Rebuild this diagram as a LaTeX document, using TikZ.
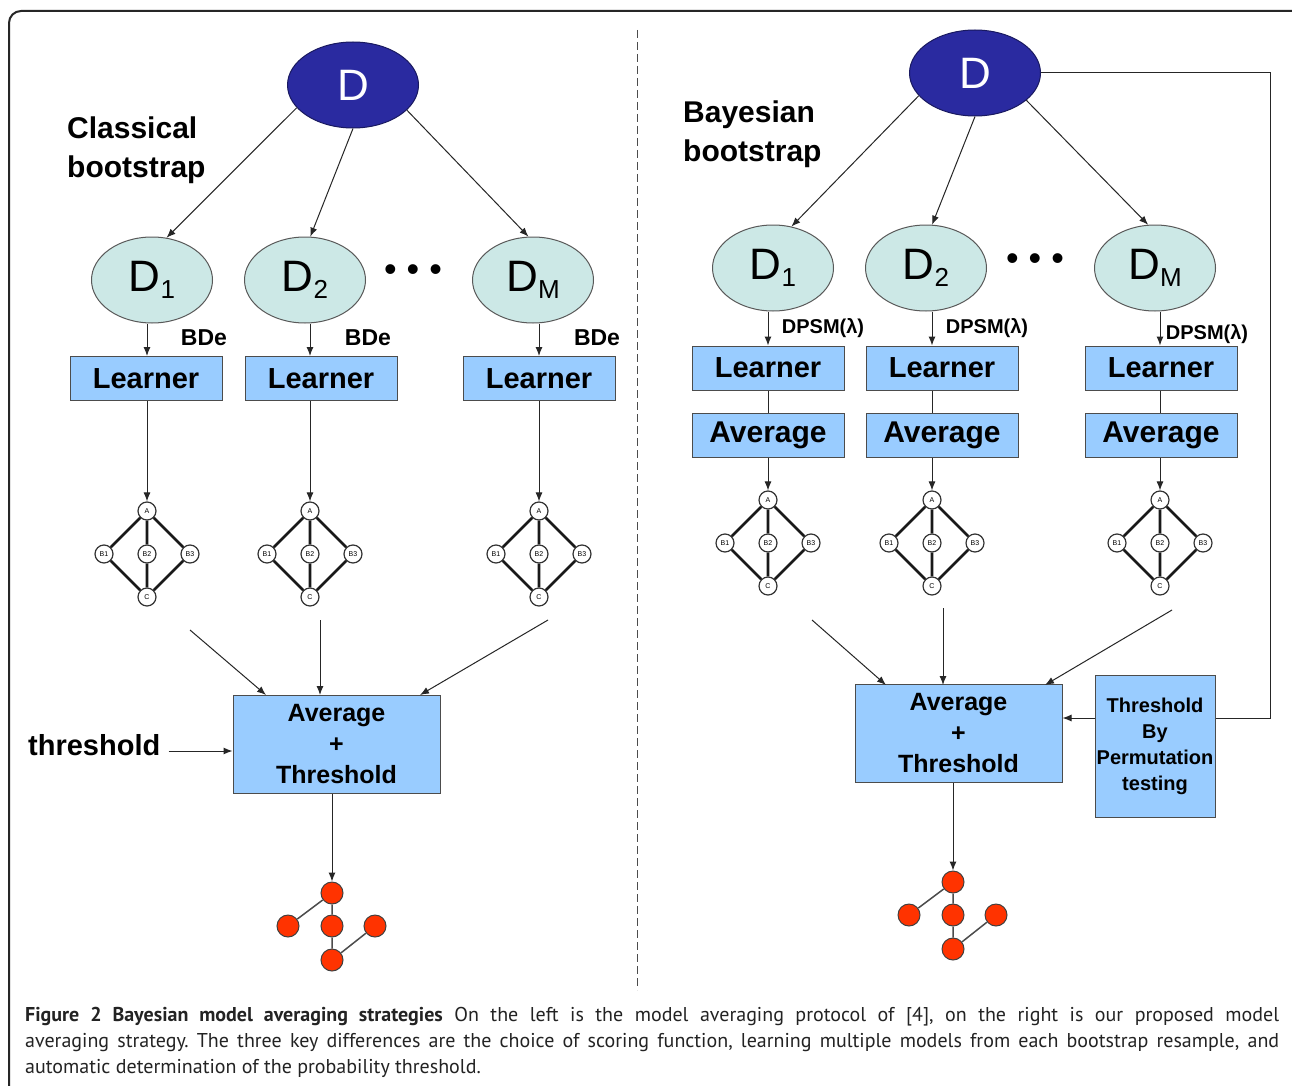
\documentclass[tikz,border=0pt]{standalone}
\usepackage{fontspec}
\setmainfont{Liberation Sans}
\newfontfamily\capfont{PT Sans}
\usetikzlibrary{shapes.geometric,arrows.meta,calc}
\definecolor{navyD}{RGB}{42,42,160}
\definecolor{tealD}{RGB}{204,232,230}
\definecolor{boxblue}{RGB}{153,204,255}
\definecolor{rednode}{RGB}{255,51,0}
\definecolor{captxt}{RGB}{35,35,35}
\tikzset{
  arr/.style={-{Latex[length=9pt,width=7pt]}, line width=1pt, draw=black!85},
  ln/.style={line width=1pt, draw=black!85},
  topD/.style={ellipse, draw=navyD!60!black, line width=1pt, fill=navyD, minimum width=131, minimum height=86, inner sep=0, text=white, font=\fontsize{44}{44}\selectfont},
  subD/.style={ellipse, draw=black!65, line width=1pt, fill=tealD, minimum width=121, minimum height=86, inner sep=0, font=\fontsize{44}{44}\selectfont},
  lbox/.style={rectangle, draw=black!70, line width=1pt, fill=boxblue, minimum width=152, minimum height=44, inner sep=0, font=\bfseries\fontsize{29}{29}\selectfont},
  abox/.style={rectangle, draw=black!70, line width=1pt, fill=boxblue, minimum width=207, minimum height=98, inner sep=0, align=center, font=\bfseries\fontsize{25}{31}\selectfont},
  pbox/.style={rectangle, draw=black!70, line width=1pt, fill=boxblue, minimum width=120, minimum height=142, inner sep=0, align=center, font=\bfseries\fontsize{20}{26}\selectfont},
  heading/.style={anchor=north west, inner sep=0, align=left, font=\bfseries\fontsize{30}{39}\selectfont},
  score/.style={inner sep=0, font=\bfseries\fontsize{23}{23}\selectfont},
  dpsm/.style={inner sep=0, font=\bfseries\fontsize{20}{20}\selectfont},
  dots/.style={inner sep=0, font=\fontsize{36}{36}\selectfont},
  snode/.style={circle, draw=black!80, line width=1.2pt, fill=white, minimum size=18, inner sep=0, font=\fontsize{7}{7}\selectfont},
  rnode/.style={circle, draw=black!75, line width=1pt, fill=rednode, minimum size=22, inner sep=0},
  snet/.pic={
    \node[snode] (-A) at (0,0) {A};
    \node[snode] (-B1) at (-43,43) {B1};
    \node[snode] (-B2) at (0,43) {B2};
    \node[snode] (-B3) at (43,43) {B3};
    \node[snode] (-C) at (0,86) {C};
    \draw[line width=2.6pt, black!90] (-A)--(-B1) (-A)--(-B2) (-A)--(-B3) (-B1)--(-C) (-B2)--(-C) (-B3)--(-C);
  },
  rnet/.pic={
    \node[rnode] (-T) at (0,0) {};
    \node[rnode] (-L) at (-44,33) {};
    \node[rnode] (-M) at (0,33) {};
    \node[rnode] (-R) at (43,33) {};
    \node[rnode] (-Bt) at (0,67) {};
    \draw[line width=1.5pt, black!70] (-T)--(-L) (-T)--(-M) (-M)--(-Bt) (-Bt)--(-R);
  }
}
\newcommand\Dsub[1]{D{\fontsize{26}{26}\selectfont\raisebox{-7pt}{#1}}}
\begin{document}
\begin{tikzpicture}[x=1pt,y=-1pt]
\useasboundingbox (0,0) rectangle (1292,1086);
\fill[white] (0,0) rectangle (1292,1086);
\draw[line width=2pt, rounded corners=12, black!85] (9,11) rectangle (1320,1120);
\draw[dash pattern=on 8pt off 4pt, line width=1pt, black!70] (637,30) -- (637,990);

% ---------- left: classical bootstrap ----------
\node[topD] (Dl) at (353,85) {D};
\node[heading] (hl) at (67,117) {Classical\\bootstrap};
\node[subD] (Dl1) at (152,280) {\Dsub{1}};
\node[subD] (Dl2) at (305,280) {\Dsub{2}};
\node[dots] (dl) at (413,273) {• • •};
\node[subD] (DlM) at (533,280) {\Dsub{M}};
\draw[arr] (Dl.202.7) -- (Dl1.71.6);
\draw[arr] (Dl.270) -- (Dl2.83.7);
\draw[arr] (Dl.-25) -- (DlM.96.5);

\node[lbox] (Ll1) at (146,378.5) {Learner};
\node[lbox] (Ll2) at (321,378.5) {Learner};
\node[lbox] (Ll3) at (539,378.5) {Learner};
\node[score] (bl1) at (204,338) {BDe};
\node[score] (bl2) at (368,338) {BDe};
\node[score] (bl3) at (597,338) {BDe};

\pic (gl1) at (147,511) {snet};
\pic (gl2) at (310,511) {snet};
\pic (gl3) at (539,511) {snet};

\draw[arr] (Dl1.south -| gl1-A) -- (Ll1.north -| gl1-A);
\draw[arr] (Dl2.south -| gl2-A) -- (Ll2.north -| gl2-A);
\draw[arr] (DlM.south -| gl3-A) -- (Ll3.north -| gl3-A);
\draw[arr] (Ll1.south -| gl1-A) -- (gl1-A);
\draw[arr] (Ll2.south -| gl2-A) -- (gl2-A);
\draw[arr] (Ll3.south -| gl3-A) -- (gl3-A);

\node[abox] (avgL) at (336.5,744) {Average\\+\\Threshold};
\coordinate (cl1) at (190,630);
\coordinate (cl2) at (320,620);
\coordinate (cl3) at (548,620);
\coordinate (el1) at (266,695);
\coordinate (el2) at (320,695);
\coordinate (el3) at (420,695);
\draw[arr] (cl1) -- (el1);
\draw[arr] (cl2) -- (el2);
\draw[arr] (cl3) -- (el3);

\node[anchor=west, inner sep=4pt, font=\bfseries\fontsize{29}{29}\selectfont] (thr) at (24,745) {threshold};
\draw[arr] ([yshift=-6pt,xshift=4pt]thr.east) -- ([yshift=-6pt]thr.east -| avgL.west);

\pic (rl) at (332,893) {rnet};
\draw[arr] (avgL.south -| rl-T) -- (rl-T);

% ---------- right: Bayesian bootstrap ----------
\node[topD] (Dr) at (975,73) {D};
\node[heading] (hr) at (683,101) {Bayesian\\bootstrap};
\node[subD] (Dr1) at (773,268) {\Dsub{1}};
\node[subD] (Dr2) at (926,268) {\Dsub{2}};
\node[dots] (dr) at (1035,262) {• • •};
\node[subD] (DrM) at (1155,268) {\Dsub{M}};
\draw[arr] (Dr.202.8) -- (Dr1.66.6);
\draw[arr] (Dr.270) -- (Dr2.82);
\draw[arr] (Dr.-28) -- (DrM.99);

\node[lbox] (Lr1) at (768,368) {Learner};
\node[lbox] (Lr2) at (942,368) {Learner};
\node[lbox] (Lr3) at (1161,368) {Learner};
\node[lbox, font=\bfseries\fontsize{30}{30}\selectfont] (Ar1) at (768,435) {Average};
\node[lbox, font=\bfseries\fontsize{30}{30}\selectfont] (Ar2) at (942,435) {Average};
\node[lbox, font=\bfseries\fontsize{30}{30}\selectfont] (Ar3) at (1161,435) {Average};
\node[dpsm] (br1) at (823,328) {DPSM(λ)};
\node[dpsm] (br2) at (987,328) {DPSM(λ)};
\node[dpsm] (br3) at (1207,334) {DPSM(λ)};

\pic (gr1) at (768,500) {snet};
\pic (gr2) at (932,500) {snet};
\pic (gr3) at (1160,500) {snet};

\draw[arr] (Dr1.south -| gr1-A) -- (Lr1.north -| gr1-A);
\draw[arr] (Dr2.south -| gr2-A) -- (Lr2.north -| gr2-A);
\draw[arr] (DrM.south -| gr3-A) -- (Lr3.north -| gr3-A);
\draw[ln] (Lr1.south -| gr1-A) -- (Ar1.north -| gr1-A);
\draw[ln] (Lr2.south -| gr2-A) -- (Ar2.north -| gr2-A);
\draw[ln] (Lr3.south -| gr3-A) -- (Ar3.north -| gr3-A);
\draw[arr] (Ar1.south -| gr1-A) -- (gr1-A);
\draw[arr] (Ar2.south -| gr2-A) -- (gr2-A);
\draw[arr] (Ar3.south -| gr3-A) -- (gr3-A);

\node[abox] (avgR) at (958.5,733.5) {Average\\+\\Threshold};
\node[pbox] (perm) at (1155,746) {Threshold\\By\\Permutation\\testing};
\coordinate (cr1) at (812,620);
\coordinate (cr2) at (943,608);
\coordinate (cr3) at (1172,610);
\coordinate (er1) at (886,685);
\coordinate (er2) at (943,685);
\coordinate (er3) at (1045,685);
\draw[arr] (cr1) -- (er1);
\draw[arr] (cr2) -- (er2);
\draw[arr] (cr3) -- (er3);

\coordinate (k1) at (1270,73);
\coordinate (k2) at (1270,718);
\draw[ln] (Dr.east) -- (k1) -- (k2) -- (k2 -| perm.east);
\draw[arr] (perm.west |- k2) -- (avgR.east |- k2);

\pic (rr) at (953,882) {rnet};
\draw[arr] (avgR.south -| rr-T) -- (rr-T);

% ---------- caption ----------
\node[anchor=north west, inner sep=0, text width=1254pt, align=justify, text=captxt,
      font=\capfont\fontsize{20}{26}\selectfont\frenchspacing] (cap) at (25,1007)
 {\textbf{Figure 2 Bayesian model averaging strategies} On the left is the model averaging protocol of [4], on the right is our proposed model\linebreak
 averaging strategy. The three key differences are the choice of scoring function, learning multiple models from each bootstrap resample, and\linebreak
 automatic determination of the probability threshold.};
\end{tikzpicture}
\end{document}
